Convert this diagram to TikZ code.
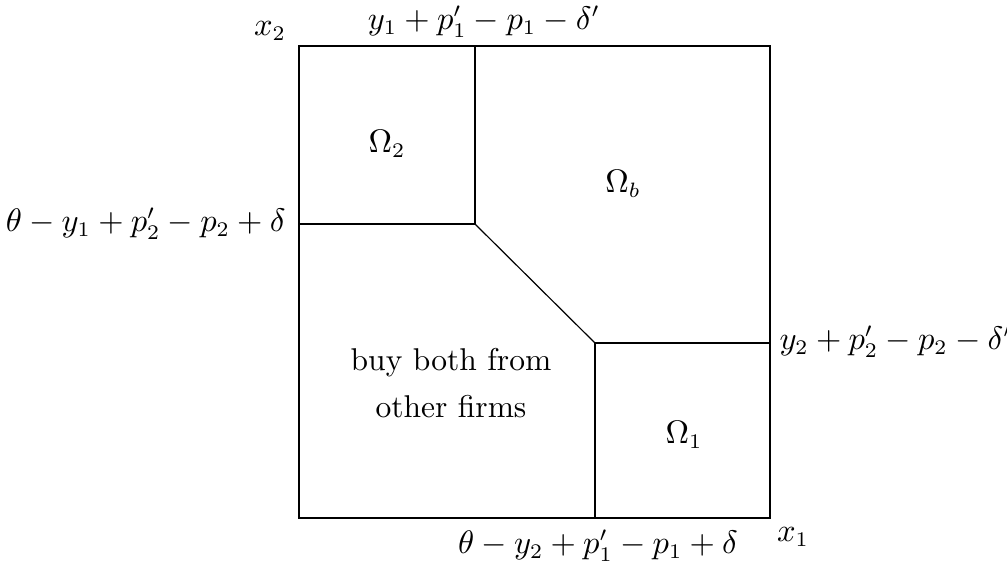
\documentclass[tikz,border=0pt]{standalone}
\usepackage{amsmath,amssymb}
\usetikzlibrary{positioning, calc}
\tikzset{
  edgelabel/.style={inner sep=2pt, font=\fontsize{10.6}{13}\selectfont},
  regionlabel/.style={inner sep=0pt, align=center, font=\fontsize{10.6}{13}\selectfont},
}

\begin{document}
\begin{tikzpicture}[x=0.01182cm, y=-0.01182cm,
          bline/.style={line width=0.4pt, color=black}
        ]
          \useasboundingbox (0,0) rectangle (1007,567);
          % corners of the unit square
          \coordinate (sw) at (299,518);
          \coordinate (se) at (770,518);
          \coordinate (ne) at (770,46);
          \coordinate (nw) at (299,46);
          % kinks of the boundary
          \coordinate (top) at (475,46);
          \coordinate (lft) at (299,224);
          \coordinate (k1) at (475,224);
          \coordinate (k2) at (595,343);
          \coordinate (rgt) at (770,343);
          \coordinate (bot) at (595,518);
          \draw[bline] (sw)--(se)--(ne)--(nw)--cycle;
          \draw[bline] (top)--(k1)--(lft);
          \draw[bline] (k1)--(k2);
          \draw[bline] (rgt)--(k2)--(bot);
          % axis and edge labels
          \node[edgelabel] (xtwo) at (270,31) {$x_2$};
          \node[edgelabel] (xone) at (793,537) {$x_1$};
          \node[edgelabel] (ltop) at (484,22) {$y_1+p_1'-p_1-\delta'$};
          \node[edgelabel, anchor=east] (llft) at (292,224) {$\theta-y_1+p_2'-p_2+\delta$};
          \node[edgelabel, anchor=west] (lrgt) at (773,342) {$y_2+p_2'-p_2-\delta'$};
          \node[edgelabel] (lbot) at (598,546) {$\theta-y_2+p_1'-p_1+\delta$};
          % regions
          \node[regionlabel] (om2) at (387,144) {$\Omega_2$};
          \node[regionlabel] (omb) at (623,184) {$\Omega_b$};
          \node[regionlabel] (om1) at (684,435) {$\Omega_1$};
          \node[regionlabel] (both) at (451,383) {buy both from\\[3pt]other firms};
        \end{tikzpicture}
\end{document}
